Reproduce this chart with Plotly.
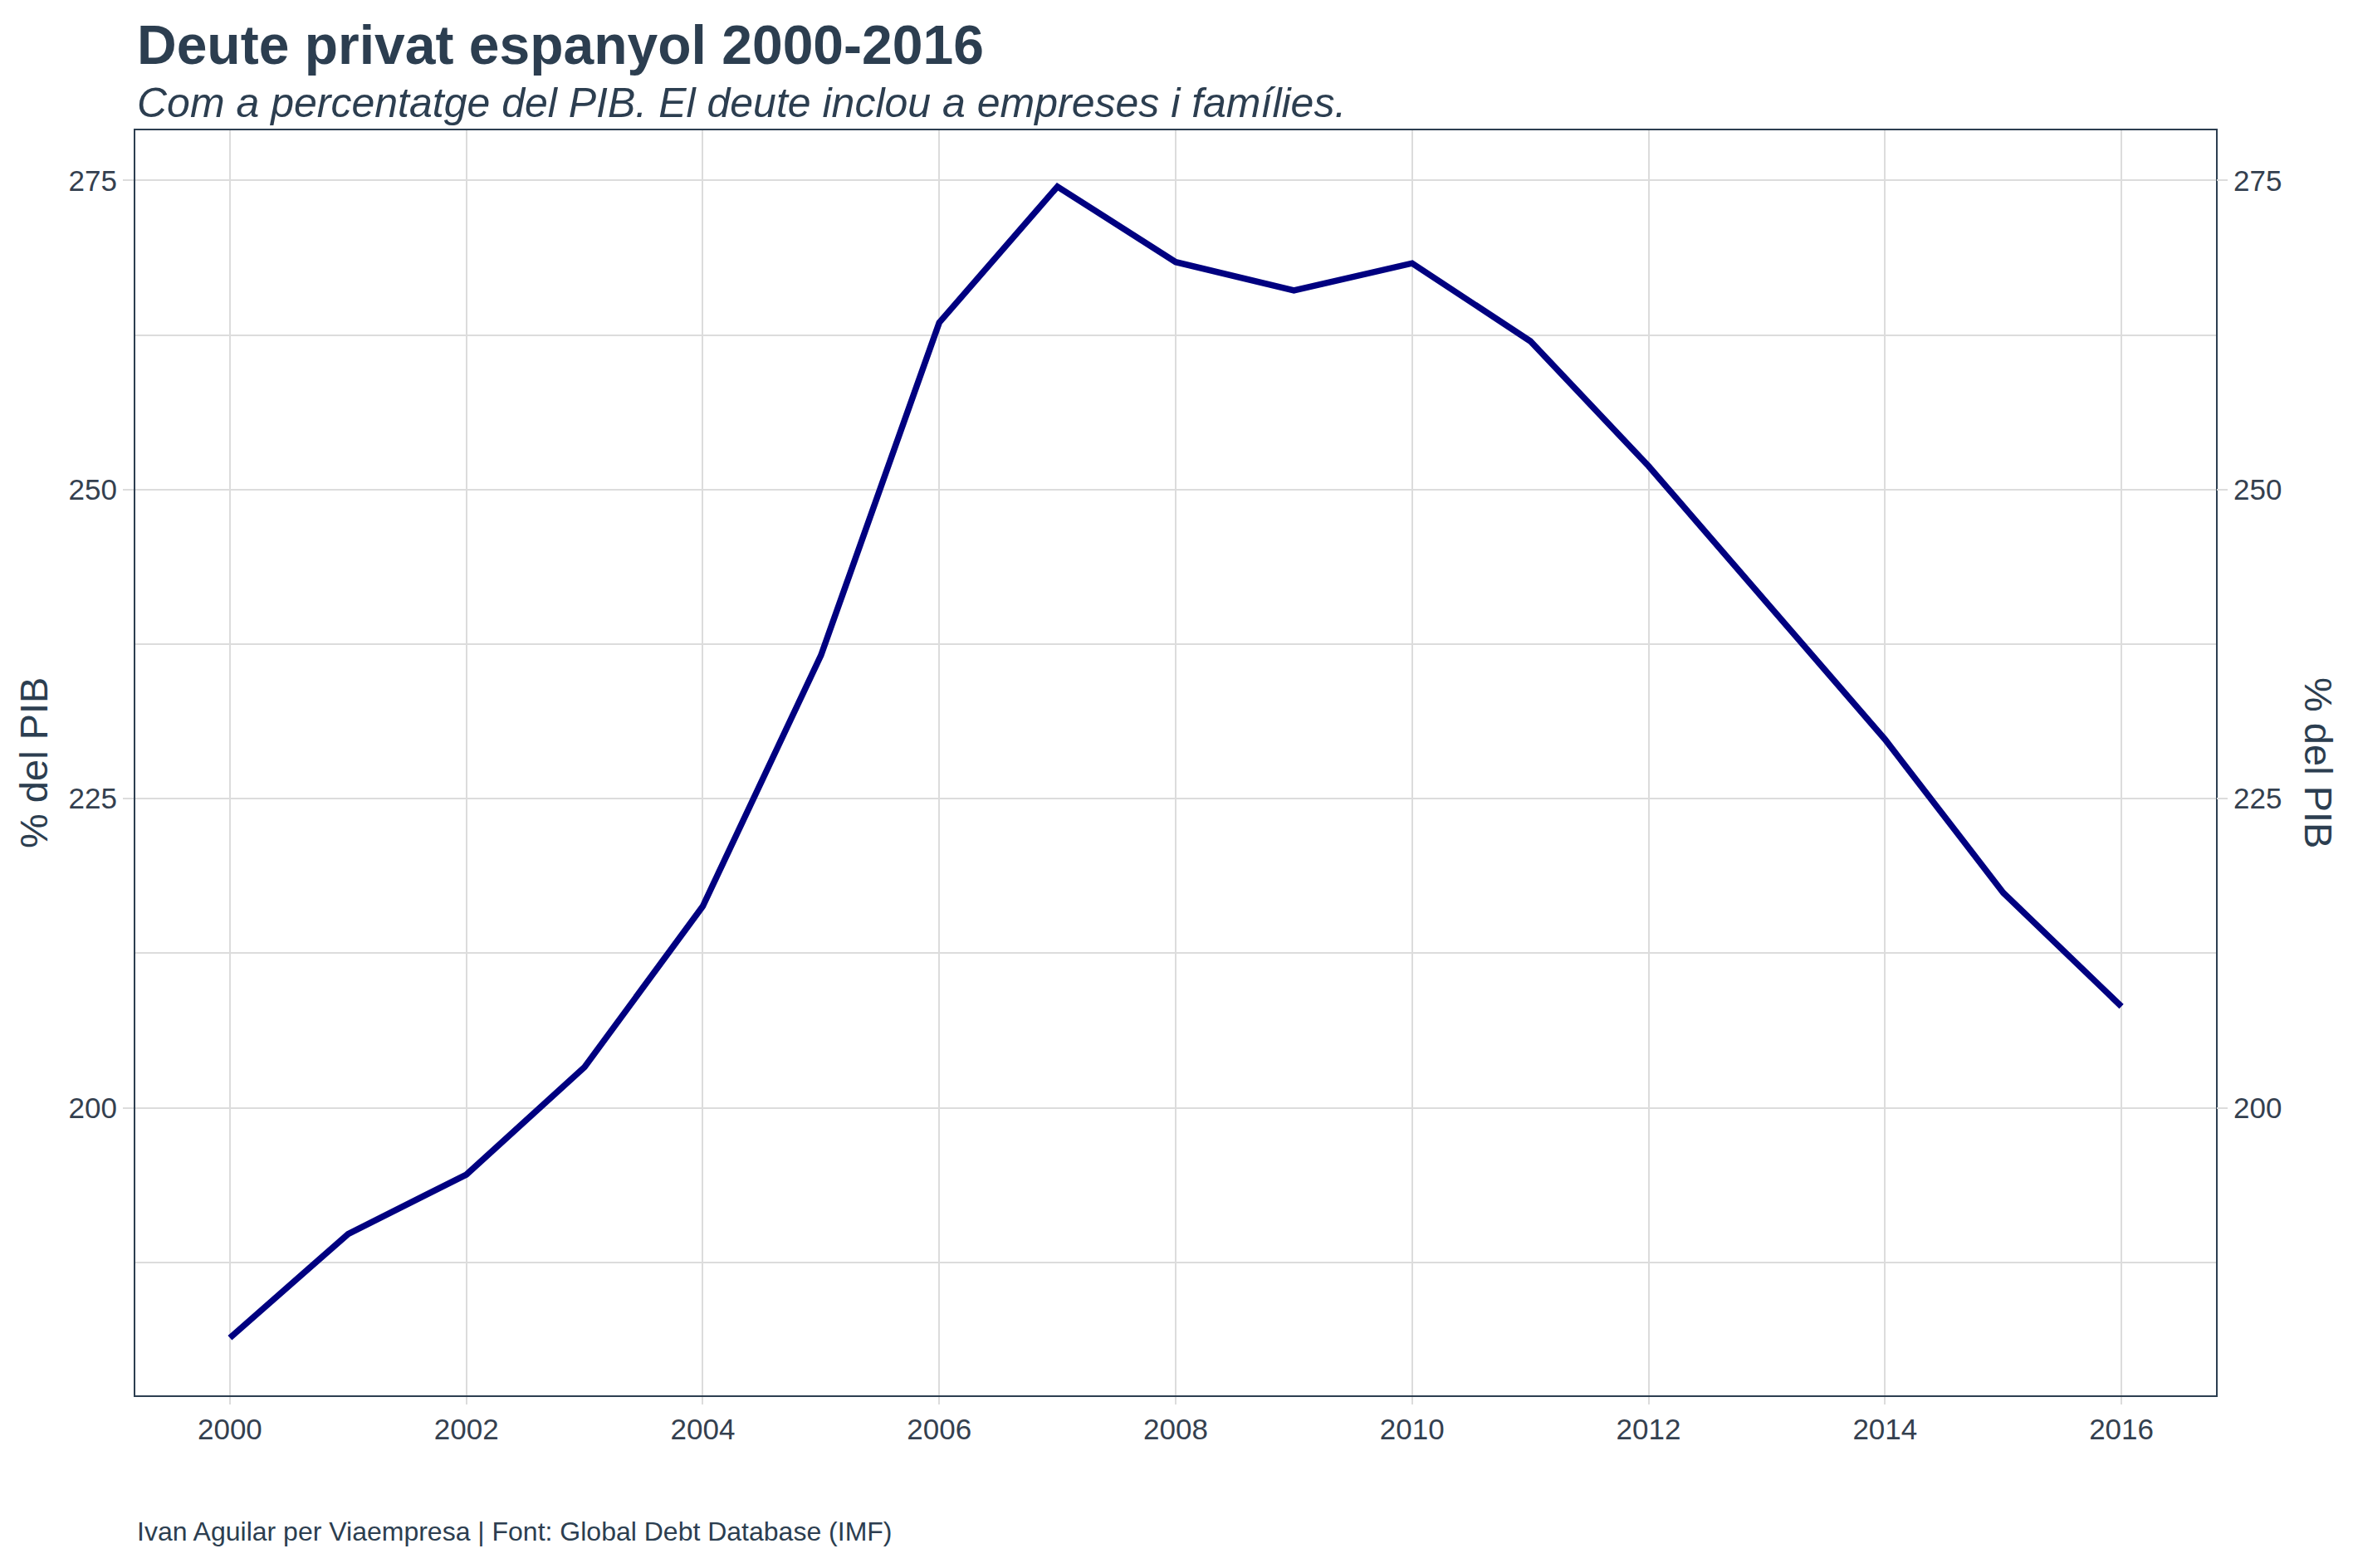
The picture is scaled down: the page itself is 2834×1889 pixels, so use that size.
import plotly.graph_objects as go

years = list(range(2000, 2017))
debt_pct_gdp = [181.4, 189.8, 194.6, 203.3, 216.3, 236.6, 263.5, 274.5,
                268.4, 266.1, 268.3, 262.0, 251.9, 240.8, 229.8, 217.4, 208.2]
x_ticks = [2000, 2002, 2004, 2006, 2008, 2010, 2012, 2014, 2016]
y_ticks = [200, 225, 250, 275]

title_text = "<b>Deute privat espanyol 2000-2016</b>"
subtitle_text = "<i>Com a percentatge del PIB. El deute inclou a empreses i famílies.</i>"
caption_text = "Ivan Aguilar per Viaempresa | Font: Global Debt Database (IMF)"
y_title = "% del PIB"

OFF = 8  # default page body margin
W, H = 2834 - 2 * OFF, 1889 - 2 * OFF
# target panel in page pixels: left 163, right 2669, top 157, bottom 1681
L = 163 - OFF
T = 157 - OFF
R = W - (2669 - OFF)
B = H - (1681 - OFF)
plot_h = H - T - B
plot_w = W - L - R


def py(page_y):
    return (H - B - (page_y - OFF)) / plot_h


def px(page_x):
    return (page_x - OFF - L) / plot_w


TXT = "#2C3E50"
TICKTXT = "#34404F"
GRID = "#DCDCDC"
FONT = "Liberation Sans, Arial, sans-serif"

fig = go.Figure()
fig.add_trace(go.Scatter(x=years, y=debt_pct_gdp, mode="lines",
                         line=dict(color="#000080", width=7.5),
                         showlegend=False))
fig.add_trace(go.Scatter(x=years, y=debt_pct_gdp, mode="lines", yaxis="y2",
                         line=dict(color="rgba(0,0,0,0)", width=0),
                         hoverinfo="skip", showlegend=False))

yrng = [176.75, 279.05]
axis_common = dict(
    showline=True, linecolor=TXT, linewidth=2, mirror=True,
    ticks="outside", tickcolor=GRID, tickwidth=1.5,
    tickfont=dict(family=FONT, size=35, color=TICKTXT),
    gridcolor=GRID, gridwidth=1.5, zeroline=False,
)

fig.update_layout(
    width=W, height=H,
    margin=dict(l=L, r=R, t=T, b=B),
    paper_bgcolor="white", plot_bgcolor="white",
    xaxis=dict(range=[1999.2, 2016.8], tickvals=x_ticks, ticklen=9, **axis_common),
    yaxis=dict(range=yrng, tickvals=y_ticks, ticklen=13,
               minor=dict(tickvals=[187.5, 212.5, 237.5, 262.5], showgrid=True,
                          gridcolor=GRID, gridwidth=1.5, ticks=""),
               **axis_common),
    yaxis2=dict(range=yrng, tickvals=y_ticks, overlaying="y", side="right",
                showgrid=False, showline=False, zeroline=False,
                ticks="outside", ticklen=13, tickcolor=GRID, tickwidth=1.5,
                tickfont=dict(family=FONT, size=35, color=TICKTXT)),
    annotations=[
        dict(text=title_text, x=0, y=py(54), xref="paper", yref="paper",
             xanchor="left", yanchor="middle", showarrow=False,
             font=dict(family=FONT, size=66, color=TXT)),
        dict(text=subtitle_text, x=0, y=py(124), xref="paper", yref="paper",
             xanchor="left", yanchor="middle", showarrow=False,
             font=dict(family=FONT, size=50, color=TXT)),
        dict(text=caption_text, x=0, y=py(1845), xref="paper", yref="paper",
             xanchor="left", yanchor="middle", showarrow=False,
             font=dict(family=FONT, size=32, color=TXT)),
        dict(text=y_title, x=px(40), y=0.5, xref="paper", yref="paper",
             xanchor="center", yanchor="middle", showarrow=False, textangle=-90,
             font=dict(family=FONT, size=47, color=TXT)),
        dict(text=y_title, x=px(2793), y=0.5, xref="paper", yref="paper",
             xanchor="center", yanchor="middle", showarrow=False, textangle=90,
             font=dict(family=FONT, size=47, color=TXT)),
    ],
)

fig.write_html("out.html")
